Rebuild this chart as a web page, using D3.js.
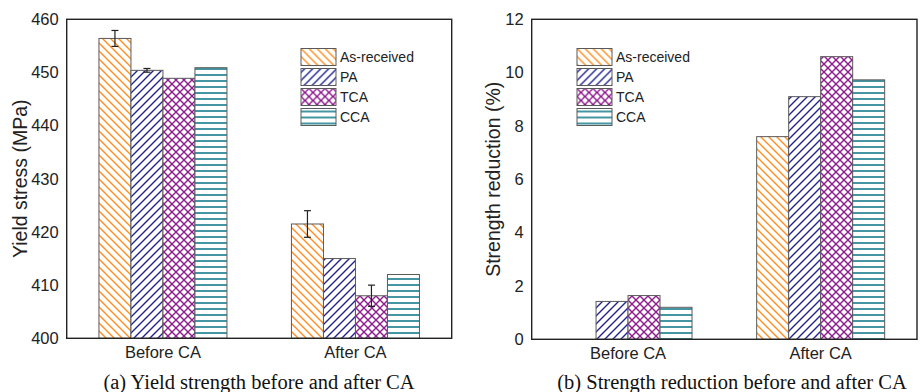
<!DOCTYPE html>
<html>
<head>
<meta charset="utf-8">
<script src="https://cdn.jsdelivr.net/npm/d3@7"></script>
<style>
  body { margin: 0; background: #fff; }
  svg { display: block; }
</style>
</head>
<body>
<svg id="chart" width="921" height="392"></svg>
<script>
// categories and series
var categories = ["Before CA", "After CA"];
var seriesNames = ["As-received", "PA", "TCA", "CCA"];

// (a) yield stress, MPa
var asReceivedYS = [456.4, 421.5];
var paYS = [450.4, 415.0];
var tcaYS = [448.9, 408.0];
var ccaYS = [450.9, 412.0];
// error bars (half range)
var asReceivedErr = [1.5, 2.5];
var paErr = [0.35, 0];
var tcaErr = [0, 2.0];
var ccaErr = [0, 0];

// (b) strength reduction, %
var asReceivedSR = [0, 7.6];
var paSR = [1.42, 9.1];
var tcaSR = [1.64, 10.6];
var ccaSR = [1.2, 9.73];

var ysTicks = [400, 410, 420, 430, 440, 450, 460];
var srTicks = [0, 2, 4, 6, 8, 10, 12];

var svg = d3.select("#chart");
var defs = svg.append("defs");

// hatch patterns
function hatch(id, color, paths, w, h, sw) {
    var p = defs.append("pattern")
        .attr("id", id)
        .attr("patternUnits", "userSpaceOnUse")
        .attr("width", w)
        .attr("height", h);
    p.append("rect").attr("width", w).attr("height", h).attr("fill", "#fff");
    paths.forEach(d => {
        p.append("path")
            .attr("d", d)
            .attr("stroke", color)
            .attr("stroke-width", sw)
            .attr("fill", "none");
    });
}
var back = "M-2,-2L10,10M-2,6L2,10M6,-2L10,2";
var fwd = "M-2,10L10,-2M-2,2L2,-2M6,10L10,6";
hatch("h0", "#ff8f1f", [back], 8, 8, 1.4);
hatch("h1", "#23238f", [fwd], 8, 8, 1.4);
hatch("h2", "#8e1a8e", [back, fwd], 8, 8, 1.4);
hatch("h3", "#157a8a", ["M0,3L6,3"], 6, 6, 1.6);
var fills = ["url(#h0)", "url(#h1)", "url(#h2)", "url(#h3)"];

var sans = "Liberation Sans, Arial, sans-serif";

function drawPanel(opts) {
    var left = opts.left, right = opts.right, top = opts.top, bottom = opts.bottom;

    var x = d3.scaleBand().domain(categories).range([left, right]).padding(0);
    var groupWidth = 128;
    var xs = d3.scaleBand().domain(seriesNames)
        .range([(x.bandwidth() - groupWidth) / 2, (x.bandwidth() + groupWidth) / 2]);

    var y = d3.scaleLinear().domain(opts.domain).range([bottom, top]);

    var g = svg.append("g");

    // bars
    opts.series.forEach((vals, i) => {
        categories.forEach((c, j) => {
            var v = vals[j];
            if (v <= opts.domain[0]) return;
            g.append("rect")
                .attr("x", x(c) + xs(seriesNames[i]))
                .attr("y", y(v))
                .attr("width", xs.bandwidth())
                .attr("height", y(opts.domain[0]) - y(v))
                .attr("fill", fills[i])
                .attr("stroke", "#5a5a5a")
                .attr("stroke-width", 1);
        });
    });

    // error bars
    if (opts.errors) {
        opts.errors.forEach((errs, i) => {
            categories.forEach((c, j) => {
                var e = errs[j];
                if (!e) return;
                var cx = x(c) + xs(seriesNames[i]) + xs.bandwidth() / 2;
                var v = opts.series[i][j];
                var eg = g.append("g").attr("stroke", "#222").attr("stroke-width", 1.2);
                eg.append("line").attr("x1", cx).attr("x2", cx).attr("y1", y(v - e)).attr("y2", y(v + e));
                eg.append("line").attr("x1", cx - 3.5).attr("x2", cx + 3.5).attr("y1", y(v - e)).attr("y2", y(v - e));
                eg.append("line").attr("x1", cx - 3.5).attr("x2", cx + 3.5).attr("y1", y(v + e)).attr("y2", y(v + e));
            });
        });
    }

    // frame
    g.append("rect")
        .attr("x", left).attr("y", top)
        .attr("width", right - left).attr("height", bottom - top)
        .attr("fill", "none").attr("stroke", "#222").attr("stroke-width", 1.4);

    // y axis
    var yAxis = g.append("g")
        .attr("transform", `translate(${left},0)`)
        .call(d3.axisLeft(y).tickValues(opts.ticks).tickSize(0).tickPadding(8).tickFormat(d3.format("d")));
    yAxis.select(".domain").remove();
    yAxis.selectAll("text")
        .attr("font-family", sans)
        .attr("font-size", 16.5)
        .attr("fill", "#222");

    // x axis
    var xAxis = g.append("g")
        .attr("transform", `translate(0,${bottom})`)
        .call(d3.axisBottom(x).tickSize(0).tickPadding(8));
    xAxis.select(".domain").remove();
    xAxis.selectAll("text")
        .attr("font-family", sans)
        .attr("font-size", 16.5)
        .attr("fill", "#222");

    // y label
    g.append("text")
        .attr("transform", `translate(${opts.labelX},${(top + bottom) / 2}) rotate(-90)`)
        .attr("text-anchor", "middle")
        .attr("font-family", sans)
        .attr("font-size", 19.5)
        .attr("fill", "#222")
        .text(opts.yLabel);

    // legend
    var lg = g.append("g").attr("transform", `translate(${opts.legendX},${opts.legendY})`);
    seriesNames.forEach((s, i) => {
        lg.append("rect")
            .attr("x", 0).attr("y", i * 20)
            .attr("width", 35).attr("height", 17)
            .attr("fill", fills[i])
            .attr("stroke", "#5a5a5a");
        lg.append("text")
            .attr("x", 39).attr("y", i * 20 + 8.5)
            .attr("dy", "0.35em")
            .attr("font-family", sans)
            .attr("font-size", 14)
            .attr("fill", "#222")
            .text(s);
    });

    // caption
    g.append("text")
        .attr("x", opts.captionX).attr("y", 389)
        .attr("text-anchor", "middle")
        .attr("font-family", "Liberation Serif, Times New Roman, serif")
        .attr("font-size", 20.5)
        .attr("fill", "#111")
        .text(opts.caption);
}

drawPanel({
    left: 66.7, right: 451.7, top: 19.3, bottom: 338.3,
    domain: [400, 460], ticks: ysTicks,
    series: [asReceivedYS, paYS, tcaYS, ccaYS],
    errors: [asReceivedErr, paErr, tcaErr, ccaErr],
    yLabel: "Yield stress (MPa)", labelX: 27,
    legendX: 301, legendY: 48.5,
    caption: "(a) Yield strength before and after CA", captionX: 259
});

drawPanel({
    left: 531.7, right: 917, top: 19.3, bottom: 339.3,
    domain: [0, 12], ticks: srTicks,
    series: [asReceivedSR, paSR, tcaSR, ccaSR],
    errors: null,
    yLabel: "Strength reduction (%)", labelX: 500,
    legendX: 577, legendY: 48.5,
    caption: "(b) Strength reduction before and after CA", captionX: 732
});
</script>
</body>
</html>
